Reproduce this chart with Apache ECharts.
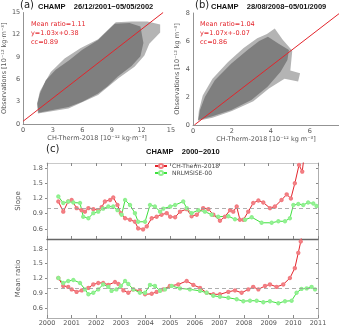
<!DOCTYPE html>
<html lang="en">
<head>
<meta charset="UTF-8">
<script src="https://cdn.jsdelivr.net/npm/echarts@6/dist/echarts.min.js"></script>
<title>CHAMP CH-Therm-2018</title>
<style>
  html, body { margin: 0; padding: 0; background: #fff; }
  #main { width: 339px; height: 327px; }
</style>
</head>
<body>
<div id="main"></div>
<script type="text/javascript">
// scatter clouds (x, y in 1e-12 kg m^-3)
var cloudA_outer = [[1.5,1.4],[4.6,2.1],[7.6,3.9],[9.7,6.2],[11.3,7.7],[12.3,9.2],[12.8,10.8],[13.9,12.3],[13.9,13.4],[12.6,13.8],[11,13.8],[9.4,13.7],[7.6,11.4],[5.8,10.2],[4.2,8.8],[2.8,7.0],[1.7,4.4],[1.4,2.7]];
var cloudA_core = [[1.55,1.5],[3,1.9],[4.6,2.3],[6,3.0],[7.6,4.1],[8.6,5.1],[9.6,6.4],[11,7.8],[11.9,9.1],[12.2,10.9],[11.9,13.1],[10.8,13.6],[9.3,13.5],[8.3,12.2],[7.6,11.3],[6,10.0],[4.7,8.6],[3.3,7.3],[2.3,5.9],[1.7,4.1],[1.45,2.8]];
var fitA = [[0,0.38],[14.2,15]];

var cloudB_outer = [[0.25,0.3],[1.0,0.52],[2.0,1.0],[3.1,1.7],[3.9,2.6],[4.7,3.3],[5.4,3.1],[5.5,3.7],[5.0,3.9],[5.1,5.3],[4.6,6.1],[4.2,6.9],[3.8,6.5],[3.3,6.2],[2.6,5.5],[1.8,4.5],[1.0,3.3],[0.5,2.1],[0.3,1.0]];
var cloudB_core = [[0.27,0.36],[0.95,0.6],[1.97,1.07],[3.0,1.79],[3.83,2.74],[4.5,3.8],[4.85,4.64],[4.93,5.36],[4.4,5.8],[3.85,6.3],[3.4,6.0],[2.8,5.36],[1.97,4.4],[1.12,3.2],[0.61,2.0],[0.36,1.07]];
var fitB = [[0.07,0],[7.5,7.95]];

// time series (c)
var yearTicks = [2000,2001,2002,2003,2004,2005,2006,2007,2008,2009,2010,2011];
var valueTicks = [0.6,0.9,1.2,1.5,1.8];

var slopeChYears = [2000.46,2000.66,2000.86,2001.0,2001.2,2001.4,2001.54,2001.68,2001.88,2002.08,2002.22,2002.35,2002.56,2002.69,2002.86,2003.0,2003.17,2003.37,2003.57,2003.7,2003.9,2004.05,2004.25,2004.45,2004.65,2004.86,2005.0,2005.2,2005.4,2005.67,2005.87,2006.08,2006.34,2006.55,2006.75,2007.02,2007.22,2007.43,2007.56,2007.7,2007.83,2007.97,2008.17,2008.37,2008.58,2008.78,2009.05,2009.25,2009.52,2009.73,2009.9,2010.06,2010.23,2010.36,2010.5];
var slopeCh = [1.14,0.94,1.14,1.17,1.01,0.97,0.94,1.01,0.99,0.97,1.03,1.14,1.17,1.22,1.07,0.91,0.81,0.78,0.74,0.61,0.59,0.65,0.81,0.84,0.88,0.91,0.84,0.83,0.94,0.99,0.85,0.88,1.01,0.99,0.88,0.76,0.84,0.97,0.94,1.04,0.78,0.78,0.94,1.11,1.16,1.12,1.01,1.04,1.17,1.28,1.2,1.5,1.86,1.73,2.3];

var slopeMsYears = [2000.46,2000.66,2000.86,2001.07,2001.34,2001.47,2001.68,2001.88,2002.08,2002.28,2002.49,2002.69,2002.86,2003.03,2003.17,2003.37,2003.57,2003.7,2003.98,2004.18,2004.38,2004.59,2004.72,2005.0,2005.2,2005.53,2005.67,2005.87,2006.14,2006.41,2006.68,2006.95,2007.36,2007.63,2008.04,2008.31,2008.71,2009.12,2009.39,2009.66,2009.86,2010.0,2010.2,2010.4,2010.6,2010.81,2010.94];
var slopeMs = [1.24,1.11,1.14,1.12,1.11,0.84,0.81,0.91,0.94,1.0,1.04,1.04,0.97,0.88,1.17,1.07,0.91,0.74,0.74,1.07,1.04,0.94,1.0,1.04,1.07,1.14,1.01,0.91,0.97,0.94,0.88,0.84,0.85,0.79,0.78,0.83,0.72,0.72,0.75,0.75,0.81,1.07,1.09,1.07,1.12,1.1,1.05];

var ratioChYears = [2000.46,2000.66,2000.86,2001.0,2001.2,2001.41,2001.68,2001.88,2002.08,2002.28,2002.49,2002.76,2002.9,2003.1,2003.3,2003.5,2003.77,2003.98,2004.25,2004.45,2004.72,2004.99,2005.33,2005.67,2005.94,2006.21,2006.48,2006.75,2007.02,2007.36,2007.63,2007.9,2008.17,2008.37,2008.58,2008.85,2009.05,2009.32,2009.59,2009.86,2010.06,2010.2,2010.3,2010.45];
var ratioCh = [1.21,1.05,1.03,0.98,0.93,0.96,1.01,1.08,1.11,1.11,1.07,1.13,1.09,0.96,0.91,0.98,0.95,0.88,0.89,0.93,0.98,1.05,1.08,1.15,1.07,1.01,0.91,0.88,0.88,0.93,0.96,0.91,0.98,1.03,0.98,1.05,1.08,1.03,1.08,1.21,1.41,1.72,1.95,2.4];

var ratioMsYears = [2000.46,2000.66,2000.86,2001.07,2001.34,2001.54,2001.68,2001.88,2002.08,2002.28,2002.49,2002.62,2002.82,2003.0,2003.17,2003.3,2003.5,2003.77,2003.98,2004.18,2004.38,2004.59,2004.79,2005.06,2005.4,2005.8,2006.21,2006.48,2006.75,2007.02,2007.36,2007.7,2007.97,2008.24,2008.51,2008.78,2009.05,2009.39,2009.66,2009.93,2010.13,2010.33,2010.54,2010.74,2010.88];
var ratioMs = [1.21,1.11,1.15,1.17,1.11,0.98,0.88,0.91,0.98,1.08,1.03,0.95,0.98,1.05,1.15,1.09,0.98,0.91,0.91,1.07,1.05,0.95,0.98,1.05,1.0,0.98,0.95,0.91,0.85,0.83,0.81,0.78,0.74,0.75,0.75,0.72,0.74,0.70,0.74,0.75,0.91,0.99,1.0,1.03,0.98];

var FONT = 'DejaVu Sans';
var TFONT = 'Liberation Sans';
var RED = '#e3242b', GREEN = '#3ee03e';

function pairs(xs, ys) {
    var out = [];
    for (var i = 0; i < xs.length; i++) out.push([xs[i], ys[i]]);
    return out;
}

// draw the whole outline as one polygon
function polygonSeries(pts, xi, yi, fill) {
    return {
        type: 'custom', xAxisIndex: xi, yAxisIndex: yi, silent: true, z: 1,
        data: pts,
        renderItem: function (params, api) {
            if (params.dataIndex !== 0) return;
            var shape = pts.map(function (p) { return api.coord(p); });
            return { type: 'polygon', shape: { points: shape }, style: { fill: fill } };
        }
    };
}

function scatterX(idx, max, interval, name, showMax) {
    return {
        gridIndex: idx, type: 'value', min: 0, max: max, interval: interval,
        name: name, nameLocation: 'middle', nameGap: 11,
        nameTextStyle: { fontFamily: FONT, fontSize: 6.5, color: '#555' },
        axisLine: { lineStyle: { color: '#777', width: 0.8 } },
        axisTick: { show: false }, splitLine: { show: false },
        axisLabel: { fontFamily: FONT, fontSize: 6.5, color: '#555', margin: 3, showMaxLabel: showMax }
    };
}
function scatterY(idx, max, interval, name) {
    return {
        gridIndex: idx, type: 'value', min: 0, max: max, interval: interval,
        name: name, nameLocation: 'middle', nameGap: 12,
        nameTextStyle: { fontFamily: FONT, fontSize: 6.5, color: '#555' },
        axisLine: { show: true, lineStyle: { color: '#777', width: 0.8 } },
        axisTick: { show: false }, splitLine: { show: false },
        axisLabel: { fontFamily: FONT, fontSize: 6.5, color: '#555', margin: 3 }
    };
}
function yearAxis(idx, pos, labels, lineColor, lineWidth) {
    return {
        gridIndex: idx, type: 'value', position: pos, min: 2000, max: 2011, interval: 1,
        axisLine: { show: true, onZero: false, lineStyle: { color: lineColor, width: lineWidth } },
        axisTick: { show: true, inside: true, length: 3, lineStyle: { color: '#888' } },
        splitLine: { show: false },
        axisLabel: {
            show: labels, fontFamily: FONT, fontSize: 6.5, color: '#555', margin: 2,
            formatter: function (v) { return String(v); }
        }
    };
}
function valAxis(idx, pos, min, max, name) {
    var left = pos === 'left';
    return {
        gridIndex: idx, type: 'value', position: pos, min: min, max: max,
        name: left ? name : '', nameLocation: 'middle', nameGap: 17,
        nameTextStyle: { fontFamily: FONT, fontSize: 7, color: '#555' },
        axisLine: { show: true, onZero: false, lineStyle: { color: '#999', width: 0.8 } },
        axisTick: { show: true, inside: !left, length: 2, customValues: valueTicks, lineStyle: { color: '#888' } },
        splitLine: { show: false },
        axisLabel: {
            show: left, fontFamily: FONT, fontSize: 6.5, color: '#555', margin: 4,
            customValues: valueTicks,
            formatter: function (v) { return v.toFixed(1); }
        }
    };
}
function tsLine(name, data, xi, yi, color, sym) {
    return {
        name: name, type: 'line', xAxisIndex: xi, yAxisIndex: yi,
        data: data, symbol: 'emptyCircle', symbolSize: 2.4, showSymbol: true,
        lineStyle: { color: color, width: 1 },
        itemStyle: { color: sym, borderColor: sym, borderWidth: 0.7 },
        clip: true, z: 3
    };
}
var refLine = function (xi, yi) {
    return {
        type: 'line', xAxisIndex: xi, yAxisIndex: yi, data: [], silent: true,
        markLine: {
            silent: true, symbol: 'none', label: { show: false },
            lineStyle: { color: '#999', type: [4, 3], width: 0.8 },
            data: [{ yAxis: 1 }]
        }
    };
};

var myChart = echarts.init(document.getElementById('main'));

var titleText = { fontFamily: TFONT, fontSize: 7.5, fontWeight: 'bold', color: '#111' };
var panelText = { fontFamily: FONT, fontSize: 10, fontWeight: 'normal', color: '#222' };
var redText = { fontFamily: FONT, fontSize: 6.5, fontWeight: 'normal', color: RED, lineHeight: 9 };

option = {
    animation: false,
    backgroundColor: '#fff',
    title: [
        { text: '(a)', left: 20, top: 0, padding: 0, textStyle: panelText },
        { text: 'CHAMP    26/12/2001\u221205/05/2002', left: 38, top: 3, padding: 0, textStyle: titleText },
        { text: 'Mean ratio=1.11\ny=1.03x+0.38\ncc=0.89', left: 31, top: 20, padding: 0, textStyle: redText },
        { text: '(b)', left: 195, top: 0, padding: 0, textStyle: panelText },
        { text: 'CHAMP    28/08/2008\u221205/01/2009', left: 211, top: 3, padding: 0, textStyle: titleText },
        { text: 'Mean ratio=1.04\ny=1.07x+-0.07\ncc=0.86', left: 200, top: 20, padding: 0, textStyle: redText },
        { text: '(c)', left: 46, top: 144, padding: 0, textStyle: panelText },
        { text: 'CHAMP    2000\u22122010', left: 146, top: 148, padding: 0, textStyle: titleText }
    ],
    legend: {
        orient: 'vertical', left: 154, top: 163, itemGap: 1, padding: 0,
        itemWidth: 12, itemHeight: 5,
        textStyle: { fontFamily: FONT, fontSize: 6, color: '#444' },
        data: ['CH-Therm-2018', 'NRLMSISE-00']
    },
    grid: [
        { left: 21, top: 12.5, width: 150, height: 111.5 },
        { left: 193, top: 13, width: 146, height: 112 },
        { left: 47, top: 163, width: 271, height: 76 },
        { left: 47, top: 239, width: 271, height: 81 }
    ],
    xAxis: [
        scatterX(0, 15, 3, 'CH-Therm-2018 [10\u207B\u00B9\u00B2 kg\u00B7m\u207B\u00B3]', true),
        scatterX(1, 7.5, 2, 'CH-Therm-2018 [10\u207B\u00B9\u00B2 kg m\u207B\u00B3]', false),
        yearAxis(2, 'bottom', false, '#666', 1.4),
        yearAxis(2, 'top', false, '#bbb', 0.8),
        yearAxis(3, 'bottom', true, '#999', 0.8)
    ],
    yAxis: [
        scatterY(0, 15, 3, 'Observations [10\u207B\u00B9\u00B2 kg\u00B7m\u207B\u00B3]'),
        scatterY(1, 8, 2, 'Observations [10\u207B\u00B9\u00B2 kg m\u207B\u00B3]'),
        valAxis(2, 'left', 0.4, 1.9, 'Slope'),
        valAxis(2, 'right', 0.4, 1.9, ''),
        valAxis(3, 'left', 0.4, 2.0, 'Mean ratio'),
        valAxis(3, 'right', 0.4, 2.0, '')
    ],
    series: [
        polygonSeries(cloudA_outer, 0, 0, '#b4b4b4'),
        polygonSeries(cloudA_core, 0, 0, '#7f7f7f'),
        { type: 'line', xAxisIndex: 0, yAxisIndex: 0, data: fitA, symbol: 'none', silent: true,
          lineStyle: { color: RED, width: 1 }, z: 4 },
        polygonSeries(cloudB_outer, 1, 1, '#b4b4b4'),
        polygonSeries(cloudB_core, 1, 1, '#7f7f7f'),
        { type: 'line', xAxisIndex: 1, yAxisIndex: 1, data: fitB, symbol: 'none', silent: true,
          lineStyle: { color: RED, width: 1 }, z: 4 },
        refLine(2, 2),
        refLine(4, 4),
        tsLine('CH-Therm-2018', pairs(slopeChYears, slopeCh), 2, 2, RED, '#f27b80'),
        tsLine('NRLMSISE-00', pairs(slopeMsYears, slopeMs), 2, 2, GREEN, '#8ef08e'),
        tsLine('CH-Therm-2018', pairs(ratioChYears, ratioCh), 4, 4, RED, '#f27b80'),
        tsLine('NRLMSISE-00', pairs(ratioMsYears, ratioMs), 4, 4, GREEN, '#8ef08e')
    ]
};
myChart.setOption(option);
</script>
</body>
</html>
